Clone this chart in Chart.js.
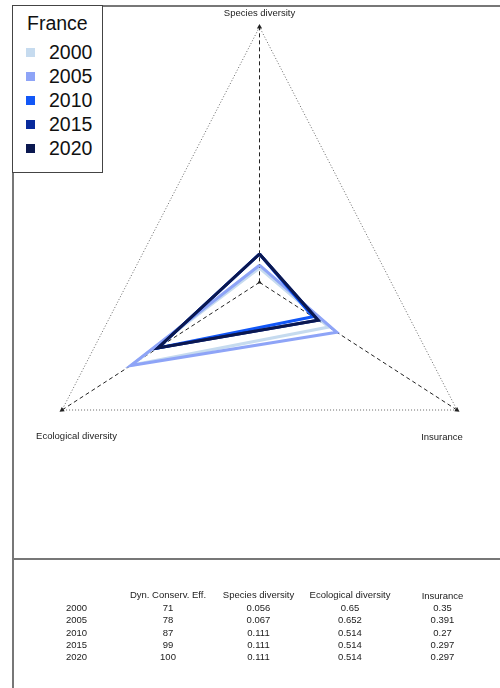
<!DOCTYPE html>
<html>
<head>
<meta charset="utf-8">
<script src="https://cdn.jsdelivr.net/npm/chart.js@4"></script>
<style>
  body { margin: 0; background: #fff; font-family: "Liberation Sans", Arial, sans-serif; }
  #wrap { position: relative; width: 500px; height: 688px; overflow: hidden; }
  #myChart { position: absolute; left: 0; top: 0; }
  .frame { position: absolute; left: 12px; top: 5px; width: 490px; height: 690px; border-left: 2px solid #777; border-top: 2px solid #777; box-sizing: border-box; }
  .sep { position: absolute; left: 12px; top: 558px; width: 490px; border-top: 2px solid #777; }
  #legend { position: absolute; left: 12px; top: 5px; width: 91px; height: 168px; border: 1px solid #444; box-sizing: border-box; background: #fff; }
  #legend .title { position: absolute; left: 14px; top: 7px; font-size: 19.5px; color: #111; line-height: 20px; }
  #legend .item { position: absolute; left: 13px; font-size: 19.5px; color: #111; line-height: 20px; }
  #legend .sq { position: absolute; left: 0; top: 6px; width: 9px; height: 9px; }
  #legend .txt { position: absolute; left: 23px; top: 0; }
  .cell { position: absolute; font-size: 9.5px; color: #222; transform: translateX(-50%); white-space: nowrap; line-height: 11px; }
</style>
</head>
<body>
<div id="wrap">
  <canvas id="myChart" width="500" height="688"></canvas>
  <div class="frame"></div>
  <div class="sep"></div>
  <div id="legend"></div>
  <div id="table"></div>
</div>
<script>
const years = ['2000', '2005', '2010', '2015', '2020'];
const colors = ['#c6dbef', '#8ea4f7', '#1257f7', '#082a9c', '#0b1850'];
const axisNames = ['Species diversity', 'Ecological diversity', 'Insurance'];
const dynConserv = [71, 78, 87, 99, 100];
const speciesDiv = [0.056, 0.067, 0.111, 0.111, 0.111];
const ecoDiv = [0.65, 0.652, 0.514, 0.514, 0.514];
const insurance = [0.35, 0.391, 0.27, 0.297, 0.297];

// the three radar axes: species up, ecological down-left, insurance down-right
function toPoints(s, e, i) {
    return [
        { x: 0, y: s },
        { x: -e, y: -e / 2 },
        { x: i, y: -i / 2 },
        { x: 0, y: s }
    ];
}

const datasets = [];

// outer dotted triangle (value 1 on every axis)
datasets.push({
    data: toPoints(1, 1, 1),
    borderColor: '#666',
    borderWidth: 1,
    borderDash: [1, 2],
    pointRadius: 0,
    order: 30
});

// dashed axes with arrow heads
const axisEnds = [{ x: 0, y: 1 }, { x: -1, y: -0.5 }, { x: 1, y: -0.5 }];
const arrowRot = [0, 237, 123];
axisEnds.forEach((end, k) => {
    datasets.push({
        data: [{ x: 0, y: 0 }, end],
        borderColor: '#222',
        borderWidth: 1,
        borderDash: [4, 3],
        pointStyle: 'triangle',
        pointRadius: [k === 0 ? 2.5 : 0, 3],
        rotation: [0, arrowRot[k]],
        pointBackgroundColor: '#222',
        pointBorderColor: '#222',
        pointBorderWidth: 0,
        order: 20
    });
});

// one polygon per year, later years drawn on top (lower order = on top)
years.forEach((yr, k) => {
    datasets.push({
        label: yr,
        data: toPoints(speciesDiv[k], ecoDiv[k], insurance[k]),
        borderColor: colors[k],
        borderWidth: 3,
        borderJoinStyle: 'miter',
        pointRadius: 0,
        order: 10 - k
    });
});

// axis names next to the vertices
const axisLabels = {
    id: 'axisLabels',
    afterDraw(chart) {
        const ctx = chart.ctx;
        const xs = chart.scales.x, ys = chart.scales.y;
        ctx.save();
        ctx.font = '9.5px "Liberation Sans", Arial, sans-serif';
        ctx.fillStyle = '#222';
        ctx.textAlign = 'center';
        ctx.textBaseline = 'middle';
        ctx.fillText(axisNames[0], xs.getPixelForValue(0), ys.getPixelForValue(1) - 14);
        ctx.fillText(axisNames[1], xs.getPixelForValue(-1) + 14.5, ys.getPixelForValue(-0.5) + 26);
        ctx.fillText(axisNames[2], xs.getPixelForValue(1) - 15, ys.getPixelForValue(-0.5) + 27);
        ctx.restore();
    }
};

const ctx = document.getElementById('myChart').getContext('2d');
const myChart = new Chart(ctx, {
    type: 'scatter',
    data: { datasets: datasets },
    options: {
        responsive: false,
        animation: false,
        showLine: true,
        layout: { padding: { left: 62, right: 43, top: 27, bottom: 278 } },
        elements: { line: { tension: 0, fill: false } },
        datasets: { scatter: { clip: false } },
        scales: {
            x: { type: 'linear', min: -1, max: 1, display: false },
            y: { type: 'linear', min: -0.5, max: 1, display: false }
        },
        plugins: {
            legend: { display: false },
            tooltip: { enabled: false }
        }
    },
    plugins: [axisLabels]
});

// legend box
const legend = document.getElementById('legend');
let html = '<div class="title">France</div>';
years.forEach((yr, k) => {
    html += `<div class="item" style="top:${36 + k * 24}px"><div class="sq" style="background:${colors[k]}"></div><span class="txt">${yr}</span></div>`;
});
legend.innerHTML = html;

// values table under the chart
const table = document.getElementById('table');
const colX = [76.5, 168, 258.5, 350, 442.5];
const headers = ['', 'Dyn. Conserv. Eff.', 'Species diversity', 'Ecological diversity', 'Insurance'];
let t = '';
headers.forEach((h, c) => {
    if (h) t += `<div class="cell" style="left:${colX[c]}px;top:${c === 4 ? 590 : 589}px">${h}</div>`;
});
years.forEach((yr, r) => {
    const row = [yr, dynConserv[r], speciesDiv[r], ecoDiv[r], insurance[r]];
    row.forEach((v, c) => {
        t += `<div class="cell" style="left:${colX[c]}px;top:${602 + r * 12.3}px">${v}</div>`;
    });
});
table.innerHTML = t;
</script>
</body>
</html>
